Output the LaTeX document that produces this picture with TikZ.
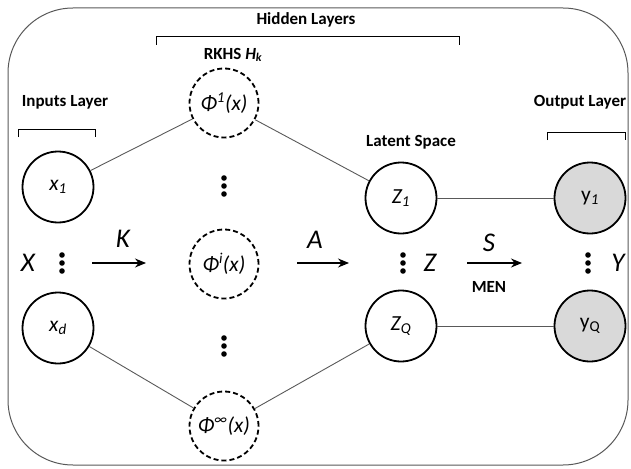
\documentclass[tikz,border=0pt]{standalone}
\usepackage{fontspec}
\setmainfont{Carlito}
\usetikzlibrary{arrows.meta}
\definecolor{ygray}{HTML}{D9D9D9}
\definecolor{lgray}{HTML}{595959}
\tikzset{
  circ/.style={circle, draw=black, line width=1.8pt, minimum size=71pt, inner sep=0pt, font=\fontsize{21.5}{21.5}\selectfont\itshape},
  phic/.style={circ, dashed, dash pattern=on 5pt off 3pt, minimum size=69pt},
  outc/.style={circ, fill=ygray},
  conn/.style={draw=lgray, line width=0.9pt},
  bigl/.style={font=\fontsize{27}{27}\selectfont\itshape},
  head/.style={font=\fontsize{17}{17}\selectfont\bfseries},
  brk/.style={draw=black, line width=0.9pt},
  arr/.style={draw=black, line width=1.1pt, -{Stealth[length=11pt,width=9pt]}},
  pics/vdots/.style={code={\fill (0,-8) circle (2.8pt); \fill (0,0) circle (2.8pt); \fill (0,8) circle (2.8pt);}}
}
\begin{document}
\begin{tikzpicture}[x={(1pt,0)}, y={(0,-1pt)}]
\useasboundingbox (0,0) rectangle (631,468);
% outer frame
\draw[draw=lgray, line width=1pt, rounded corners=65pt] (8,8) rectangle (628,465);

% headings and brackets
\node[head] (hl) at (306,20) {Hidden Layers};
\draw[brk] (156,45) -- (156,36) -- (459,36) -- (459,45);
\node[head] (rk) at (233,55) {RKHS \textit{H\textsubscript{k}}};
\node[head] (il) at (65,102) {Inputs Layer};
\draw[brk] (18,137) -- (18,129) -- (95,129) -- (95,137);
\node[head] (ol) at (580,102) {Output Layer};
\draw[brk] (547,140) -- (547,132) -- (625,132) -- (625,140);
\node[head] (ls) at (411,142) {Latent Space};

% nodes
\node[circ] (x1) at (58,187) {x\textsubscript{1}};
\node[circ] (xd) at (58,328) {x\textsubscript{d}};
\node[phic] (p1) at (224,103) {Φ\textsuperscript{1}(x)};
\node[phic] (pi) at (224,264) {Φ\textsuperscript{i}(x)};
\node[phic] (pinf) at (224,426) {Φ\textsuperscript{∞}(x)};
\node[circ] (z1) at (401,198) {Z\textsubscript{1}};
\node[circ] (zq) at (401,326) {Z\textsubscript{Q}};
\node[outc] (y1) at (590,198) {\upshape y\textsubscript{\itshape 1}};
\node[outc] (yq) at (590,326) {\upshape y\textsubscript{Q}};

% connectors
\draw[conn] (x1) -- (p1);
\draw[conn] (p1) -- (z1);
\draw[conn] (xd) -- (pinf);
\draw[conn] (pinf) -- (zq);
\draw[conn] (z1) -- (y1);
\draw[conn] (zq) -- (yq);

% vertical dots
\pic at (62,263) {vdots};
\pic at (224,186) {vdots};
\pic at (224,346) {vdots};
\pic at (403,263) {vdots};
\pic at (588,263) {vdots};

% big labels
\node[bigl] (X) at (28,263) {X};
\node[bigl] (Zl) at (430,263) {Z};
\node[bigl] (Yl) at (618,263) {Y};

% arrows
\coordinate (ka) at (92,263); \coordinate (kb) at (146,263);
\draw[arr] (ka) -- (kb);
\node[bigl] (K) at (123,239) {K};
\coordinate (aa) at (297,263); \coordinate (ab) at (349,263);
\draw[arr] (aa) -- (ab);
\node[bigl] (A) at (315,240) {A};
\coordinate (sa) at (467,263); \coordinate (sb) at (522,263);
\draw[arr] (sa) -- (sb);
\node[bigl] (S) at (489,243) {S};
\node[head] (men) at (489,287) {MEN};
\end{tikzpicture}
\end{document}
